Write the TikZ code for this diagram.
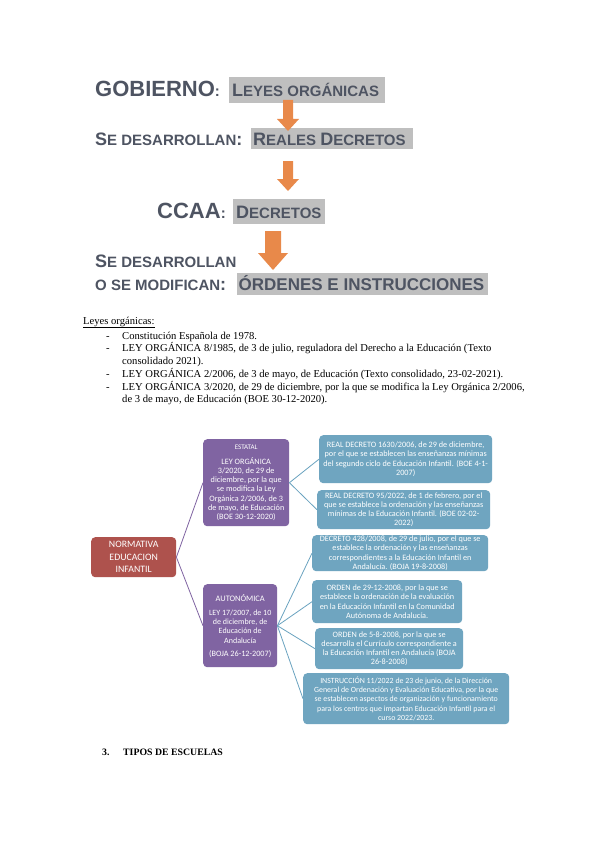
\documentclass[tikz,border=0pt]{standalone}
\usepackage{fontspec}
\setmainfont{Liberation Serif}
\newfontfamily\headfont{Liberation Sans}
\newfontfamily\boxfont{Carlito}
\definecolor{headc}{HTML}{4E5462}
\definecolor{hlgray}{HTML}{BFBFBF}
\definecolor{arrowor}{HTML}{E8894A}
\definecolor{purp}{HTML}{8064A2}
\definecolor{redb}{HTML}{AE524D}
\definecolor{blueb}{HTML}{6FA5C0}
\definecolor{bluel}{HTML}{6AA3C0}
\newcommand\HdXL{\fontsize{22}{24}\selectfont}
\newcommand\HdL{\fontsize{18}{20}\selectfont}
\newcommand\HdM{\fontsize{17}{19}\selectfont}
\newcommand\HdS{\fontsize{15}{17}\selectfont}
\newcommand\LstFont{\fontsize{10.6}{12}\selectfont}
\newcommand\HlBox[3]{\makebox[#1][l]{\hspace{#2}#3}}
\begin{document}
\begin{tikzpicture}[x=1pt,y=-1pt,
  head/.style={anchor=base west, inner sep=0pt, text=headc, font=\headfont\bfseries},
  hl/.style={anchor=base west, inner sep=0pt, fill=hlgray, text=headc, font=\headfont\bfseries},
  lst/.style={anchor=base west, inner sep=0pt, font=\LstFont},
  mbox/.style={anchor=north west, inner sep=0pt, rounded corners=4pt, align=center, text=white},
  smallbox/.style={mbox, font=\boxfont\fontsize{8.2}{9.3}\selectfont},
  pbox/.style={smallbox, fill=purp},
  bbox/.style={smallbox, fill=blueb},
  plink/.style={draw=purp, line width=0.8pt},
  blink/.style={draw=bluel, line width=0.8pt},
  blockarrow/.style={fill=arrowor}
]
\useasboundingbox[fill=white] (0,0) rectangle (599,848);

% ---- heading cascade ----
\node[head] (gob) at (95,97) {\HdXL GOBIERNO\HdS:};
\node[hl, text height=20pt, text depth=6pt] (leyes) at (229,97) {\HlBox{156pt}{3pt}{\HdL L\HdS EYES ORGÁNICAS}};

\node[head] (sed1) at (95,145) {\HdL S\HdS E DESARROLLAN\HdL:};
\node[hl, text height=17pt, text depth=4pt] (rd) at (251,145) {\HlBox{162pt}{2pt}{\HdL R\HdS EALES \HdL D\HdS ECRETOS}};

\node[head] (ccaa) at (157,218) {\HdXL CCAA\HdS:};
\node[hl, text height=19pt, text depth=6pt] (dec) at (233,218) {\HlBox{92pt}{3pt}{\HdL D\HdS ECRETOS}};

\node[head] (sed2) at (95,267) {\HdL S\HdS E DESARROLLAN};
\node[head] (osm) at (95,290) {\HdS O SE MODIFICAN\HdL:};
\node[hl, text height=17pt, text depth=5pt] (ord) at (237,290) {\HlBox{251pt}{1.5pt}{\HdM ÓRDENES E INSTRUCCIONES}};

% block arrows
\fill[blockarrow] (283,100) -- (293,100) -- (293,119) -- (299,119) -- (288,131) -- (277,119) -- (283,119) -- cycle;
\fill[blockarrow] (283,161) -- (293,161) -- (293,179) -- (299,179) -- (288,191) -- (277,179) -- (283,179) -- cycle;
\fill[blockarrow] (265,231) -- (281,231) -- (281,253) -- (288,253) -- (273,270) -- (258,253) -- (265,253) -- cycle;

% ---- list ----
\node[lst] (lo) at (83,324) {\underline{Leyes orgánicas:}};
\node[lst] (d1) at (106,339) {-};
\node[lst] (t1) at (122,339) {Constitución Española de 1978.};
\node[lst] (d2) at (106,351) {-};
\node[lst] (t2) at (122,351) {LEY ORGÁNICA 8/1985, de 3 de julio, reguladora del Derecho a la Educación (Texto};
\node[lst] (t2b) at (122,364) {consolidado 2021).};
\node[lst] (d3) at (106,377) {-};
\node[lst] (t3) at (122,377) {LEY ORGÁNICA 2/2006, de 3 de mayo, de Educación (Texto consolidado, 23-02-2021).};
\node[lst] (d4) at (106,390) {-};
\node[lst] (t4) at (122,390) {LEY ORGÁNICA 3/2020, de 29 de diciembre, por la que se modifica la Ley Orgánica 2/2006,};
\node[lst] (t4b) at (122,402) {de 3 de mayo, de Educación (BOE 30-12-2020).};

% ---- mind map ----
\node[mbox, fill=redb, minimum width=85pt, minimum height=40pt, font=\boxfont\fontsize{9.8}{12.5}\selectfont] (norm) at (91,537) {NORMATIVA\\EDUCACION\\INFANTIL};

\node[pbox, minimum width=86pt, minimum height=87pt] (est) at (203,439)
  {{\fontsize{7}{9.3}\selectfont ESTATAL}\\[5.7pt]LEY ORGÁNICA\\3/2020, de 29 de\\diciembre, por la que\\se modifica la Ley\\Orgánica 2/2006, de 3\\de mayo, de Educación\\(BOE 30-12-2020)};

\node[pbox, minimum width=74pt, minimum height=83pt, font=\boxfont\fontsize{8}{9.3}\selectfont] (aut) at (203,584)
  {{\fontsize{8.4}{9.3}\selectfont AUTONÓMICA}\\[4.7pt]LEY 17/2007, de 10\\de diciembre, de\\Educación de\\Andalucía\\[3.7pt]{\fontsize{8.2}{9.3}\selectfont(BOJA 26-12-2007)}};

\node[bbox, minimum width=173pt, minimum height=48pt] (b1) at (319,435)
  {REAL DECRETO 1630/2006, de 29 de diciembre,\\por el que se establecen las enseñanzas mínimas\\del segundo ciclo de Educación Infantil. (BOE 4-1-\\2007)};
\node[bbox, minimum width=173pt, minimum height=39pt] (b2) at (317,490)
  {REAL DECRETO 95/2022, de 1 de febrero, por el\\que se establece la ordenación y las enseñanzas\\mínimas de la Educación Infantil. (BOE 02-02-\\2022)};
\node[bbox, minimum width=176pt, minimum height=36pt] (b3) at (312,535)
  {DECRETO 428/2008, de 29 de julio, por el que se\\establece la ordenación y las enseñanzas\\correspondientes a la Educación Infantil en\\Andalucía. (BOJA 19-8-2008)};
\node[bbox, minimum width=150pt, minimum height=43pt] (b4) at (312,580)
  {ORDEN de 29-12-2008, por la que se\\establece la ordenación de la evaluación\\en la Educación Infantil en la Comunidad\\Autónoma de Andalucía.};
\node[bbox, minimum width=148pt, minimum height=41pt] (b5) at (315,628)
  {ORDEN de 5-8-2008, por la que se\\desarrolla el Currículo correspondiente a\\la Educación Infantil en Andalucía (BOJA\\26-8-2008)};
\node[bbox, minimum width=206pt, minimum height=51pt, font=\boxfont\fontsize{7.9}{9.3}\selectfont] (b6) at (303,673)
  {INSTRUCCIÓN 11/2022 de 23 de junio, de la Dirección\\General de Ordenación y Evaluación Educativa, por la que\\se establecen aspectos de organización y funcionamiento\\para los centros que impartan Educación Infantil para el\\curso 2022/2023.};

\draw[plink] (norm.east) -- (est.west);
\draw[plink] (norm.east) -- (aut.west);
\draw[blink] (est.east) -- (b1.west);
\draw[blink] (est.east) -- (b2.west);
\draw[blink] (aut.east) -- (b3.west);
\draw[blink] (aut.east) -- (b4.west);
\draw[blink] (aut.east) -- (b5.west);
\draw[blink] (aut.east) -- (b6.west);

% ---- section title ----
\node[lst, font=\bfseries\fontsize{9.8}{12}\selectfont] (n3) at (102,755) {3.};
\node[lst, font=\bfseries\fontsize{9.8}{12}\selectfont] (tip) at (123,755) {TIPOS DE ESCUELAS};
\end{tikzpicture}
\end{document}
